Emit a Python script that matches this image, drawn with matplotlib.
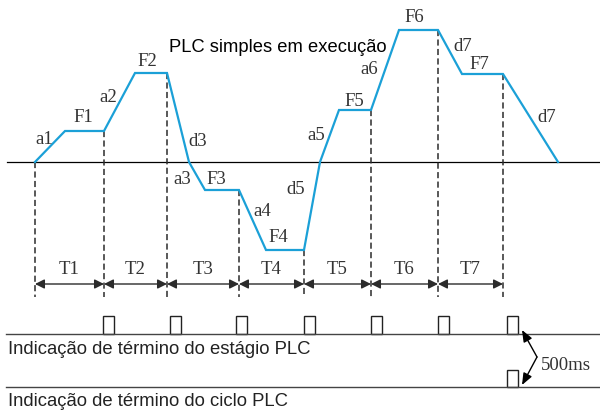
"""
PLC simples em execucao - diagrama de estagios
"""

import matplotlib
matplotlib.use("Agg")
import matplotlib.pyplot as plt
from matplotlib.patches import Rectangle

## Forma de onda (tempo, frequencia)
t_wave = [35, 65, 104, 135, 167, 189, 205, 239, 266, 304, 320, 339, 371, 399, 438, 462, 503, 558]
f_wave = [0, 31, 31, 89, 89, 0, -28, -28, -88, -88, 0, 52, 52, 132, 132, 88, 88, 0]

# fronteiras dos estagios e frequencia no fim de cada estagio
t_bound = [35, 104, 167, 239, 304, 371, 438, 503]
f_bound = [0, 31, 89, -28, -88, 52, 132, 88]
stage_names = ["T1", "T2", "T3", "T4", "T5", "T6", "T7"]

# rotulos das rampas / patamares
seg_labels = ["a1", "F1", "a2", "F2", "d3", "a3", "F3", "a4", "F4", "d5",
              "a5", "F5", "a6", "F6", "d7", "F7", "d7"]
seg_x = [44, 83, 108, 147, 198, 182, 216, 262, 278, 296,
         316, 354, 369, 414, 463, 479, 547]
seg_y = [22, 44, 65, 100, 20, -18, -17, -49, -75, -27,
         26, 60, 93, 144, 115, 97, 45]

# pulsos de termino
stage_pulse_t = [103, 170, 236, 304, 371, 438, 507]
cycle_pulse_t = [507]

blue = "#1ba0d7"
dark = "#2b2b2b"
serif = "Liberation Serif"
sans = "Liberation Sans"

fig = plt.figure(figsize=(6, 4.11), dpi=100)
ax = fig.add_axes([0, 0, 1, 1])
ax.set_xlim(0, 600)
ax.set_ylim(-249, 162)
ax.axis("off")

# linha do zero
ax.plot([7, 600], [0, 0], color="black", lw=0.9)

# linhas tracejadas
for t, f in zip(t_bound, f_bound):
    ax.plot([t, t], [f, -135], color=dark, lw=1.1, dashes=(4, 2.2))

# forma de onda
ax.plot(t_wave, f_wave, color=blue, lw=1.6, solid_joinstyle="miter")

for s, x, y in zip(seg_labels, seg_x, seg_y):
    ax.text(x, y, s, family=serif, fontsize=13.5, color="#333333",
            ha="center", va="center")

ax.text(169, 114, "PLC simples em execução", family=sans, fontsize=13.2,
        color="black", ha="left", va="center")

# setas dos tempos
for i, name in enumerate(stage_names):
    x0, x1 = t_bound[i], t_bound[i + 1]
    ax.annotate("", xy=(x1, -122), xytext=(x0, -122),
                arrowprops=dict(arrowstyle="<|-|>,head_length=0.4,head_width=0.2",
                                mutation_scale=14, color=dark, lw=1.0,
                                shrinkA=0, shrinkB=0))
    ax.text((x0 + x1) / 2, -108, name, family=serif, fontsize=13.5,
            color="#333333", ha="center", va="center")

# sinais de termino
base_stage = -172
base_cycle = -225
ax.plot([6, 600], [base_stage, base_stage], color="#444444", lw=1.0)
ax.plot([6, 600], [base_cycle, base_cycle], color="#444444", lw=1.0)
for t in stage_pulse_t:
    ax.add_patch(Rectangle((t, base_stage), 11, 18, fill=False,
                           edgecolor="#222222", lw=1.0))
for t in cycle_pulse_t:
    ax.add_patch(Rectangle((t, base_cycle), 11, 17, fill=False,
                           edgecolor="#222222", lw=1.0))

ax.text(8, -188, "Indicação de término do estágio PLC", family=sans,
        fontsize=13.3, color="#222222", ha="left", va="center")
ax.text(8, -239, "Indicação de término do ciclo PLC", family=sans,
        fontsize=13.3, color="#222222", ha="left", va="center")

# 500ms
for ytip in [base_stage + 4, base_cycle + 2]:
    ax.annotate("", xy=(522, ytip), xytext=(537, -195),
                arrowprops=dict(arrowstyle="-|>,head_length=0.5,head_width=0.2",
                                mutation_scale=14, color="black", lw=1.0,
                                shrinkA=0, shrinkB=0))
ax.text(541, -203, "500ms", family=serif, fontsize=13.5, color="#333333",
        ha="left", va="center")

plt.savefig("out.png", dpi=100)
